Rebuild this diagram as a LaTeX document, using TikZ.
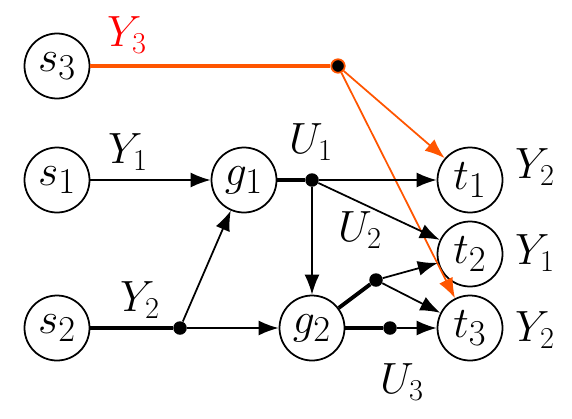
\documentclass[tikz,border=0pt]{standalone}
\usepackage{amsmath}
\usetikzlibrary{arrows.meta}
\definecolor{sigorange}{RGB}{255,85,0}
\tikzset{
  vtx/.style={draw,circle,line width=1pt,minimum size=1.3cm,inner sep=0pt,font=\fontsize{32}{36}\selectfont},
  lbl/.style={font=\fontsize{25}{30}\selectfont},
  junc/.style={circle,fill=black,inner sep=0pt,minimum size=0.27cm},
  arr/.style={line width=1pt,-{Latex[length=4mm,width=3mm]}},
  fat/.style={line width=2.2pt},
}
\begin{document}
\begin{tikzpicture}
\useasboundingbox (0,0) rectangle (11.44,8.36);

\node[vtx] (s3) at (1.14,7.04) {\(s_3\)};
\node[vtx] (s1) at (1.14,4.76) {\(s_1\)};
\node[vtx] (s2) at (1.14,1.8) {\(s_2\)};
\node[vtx] (g1) at (4.88,4.76) {\(g_1\)};
\node[vtx] (g2) at (6.24,1.8) {\(g_2\)};
\node[vtx] (t1) at (9.4,4.76) {\(t_1\)};
\node[vtx] (t2) at (9.4,3.28) {\(t_2\)};
\node[vtx] (t3) at (9.4,1.8) {\(t_3\)};

\node[junc,draw=sigorange,line width=1pt] (d3) at (6.76,7.04) {};
\node[junc] (u1) at (6.24,4.76) {};
\node[junc] (d2) at (3.6,1.8) {};
\node[junc] (u2) at (7.52,2.76) {};
\node[junc] (u3) at (7.8,1.8) {};

% source s3
\draw[sigorange,line width=2.2pt] (s3) -- (d3);
\draw[sigorange,arr] (d3) -- (t1);
\draw[sigorange,arr] (d3) -- (t3);

% first stage
\draw[arr] (s1) -- (g1);
\draw[fat] (s2) -- (d2);
\draw[arr] (d2) -- (g1);
\draw[arr] (d2) -- (g2);

% second stage
\draw[fat] (g1) -- (u1);
\draw[arr] (u1) -- (t1);
\draw[arr] (u1) -- (t2);
\draw[arr] (u1) -- (g2);
\draw[fat] (g2) -- (u2);
\draw[arr] (u2) -- (t2);
\draw[arr] (u2) -- (t3);
\draw[fat] (g2) -- (u3);
\draw[arr] (u3) -- (t3);

\node[lbl,red] (ly3) at (2.54,7.66) {\(Y_3\)};
\node[lbl] (ly1) at (2.56,5.32) {\(Y_1\)};
\node[lbl] (ly2) at (2.8,2.36) {\(Y_2\)};
\node[lbl] (lu1) at (6.22,5.52) {\(U_1\)};
\node[lbl] (lu2) at (7.2,3.76) {\(U_2\)};
\node[lbl] (lu3) at (8.04,0.72) {\(U_3\)};
\node[lbl] (rt1) at (10.7,5.02) {\(Y_2\)};
\node[lbl] (rt2) at (10.7,3.3) {\(Y_1\)};
\node[lbl] (rt3) at (10.7,1.76) {\(Y_2\)};
\end{tikzpicture}
\end{document}
